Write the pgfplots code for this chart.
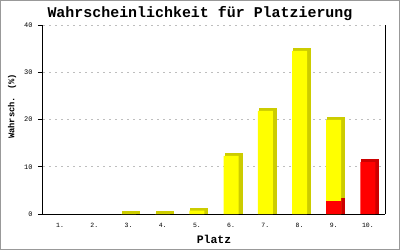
\documentclass[border=0pt]{standalone}
\usepackage{pgfplots}
\pgfplotsset{compat=1.18}
\usepackage{fontspec}
\setmainfont{Liberation Mono}
\definecolor{ylw}{RGB}{255,255,0}
\definecolor{ylwd}{RGB}{204,204,0}
\definecolor{rd}{RGB}{255,0,0}
\definecolor{rdd}{RGB}{204,0,0}
\definecolor{framec}{RGB}{153,153,153}
\definecolor{gridc}{RGB}{190,190,190}
\begin{document}
\begin{tikzpicture}[x=1bp,y=1bp]
\path[use as bounding box] (0,0) rectangle (400,250);
\fill[white] (0,0) rectangle (400,250);
\draw[framec, line width=1.5bp] (0.75,0.75) rectangle (399.25,249.25);
\begin{axis}[
  at={(43bp,36bp)}, anchor=south west,
  scale only axis, width=342bp, height=189bp,
  xmin=0.5, xmax=10.5, ymin=0, ymax=40,
  clip=false,
  axis x line*=bottom, axis y line*=left,
  axis line style={black, line width=1bp, -},
  xtick={1,...,10},
  xticklabels={1.,2.,3.,4.,5.,6.,7.,8.,9.,10.},
  ytick={0,10,20,30,40},
  tick align=outside, major tick length=5bp,
  y tick style={black, line width=1bp},
  x tick style={draw=none},
  /pgf/number format/assume math mode=true,
  yticklabel style={font=\fontsize{7}{7}\selectfont, xshift=-2bp},
  xticklabel style={font=\fontsize{6.5}{6.5}\selectfont, yshift=-1bp},
  ymajorgrids,
  grid style={gridc, line width=1bp, dash pattern=on 2bp off 4bp},
  title={Wahrscheinlichkeit für Platzierung},
  every axis title/.style={at={(0.459,1.061)}, anchor=center, font=\bfseries\fontsize{15}{15}\selectfont},
  xlabel={Platz},
  xlabel style={at={(0.5,-0.132)}, anchor=center, font=\bfseries\fontsize{11.5}{11.5}\selectfont},
  ylabel={Wahrsch. (\%)},
  ylabel style={at={(-0.0906,0.569)}, anchor=center, rotate=0, font=\bfseries\fontsize{8.8}{8.8}\selectfont},
]
% depth (dark) parts
\addplot[ybar, bar shift=0pt, bar width=15bp, fill=ylwd, draw=ylwd, line width=3bp, line join=miter, xshift=2.5bp, yshift=1.5bp]
  coordinates {(3,0.05) (4,0.05) (5,0.7) (6,12.3) (7,21.8) (8,34.5) (9,19.9)};
\addplot[ybar, bar shift=0pt, bar width=15bp, fill=rdd, draw=rdd, line width=3bp, line join=miter, xshift=2.5bp, yshift=1.5bp]
  coordinates {(9,2.75) (10,11.0)};
% front faces
\addplot[ybar, bar shift=0pt, bar width=15bp, fill=ylw, draw=none]
  coordinates {(3,0.05) (4,0.05) (5,0.7) (6,12.3) (7,21.8) (8,34.5) (9,19.9)};
\addplot[ybar, bar shift=0pt, bar width=15bp, fill=rd, draw=none]
  coordinates {(9,2.75) (10,11.0)};
\draw[black, line width=1bp] (rel axis cs:1,0) -- (rel axis cs:1,1);
\end{axis}
\end{tikzpicture}
\end{document}
